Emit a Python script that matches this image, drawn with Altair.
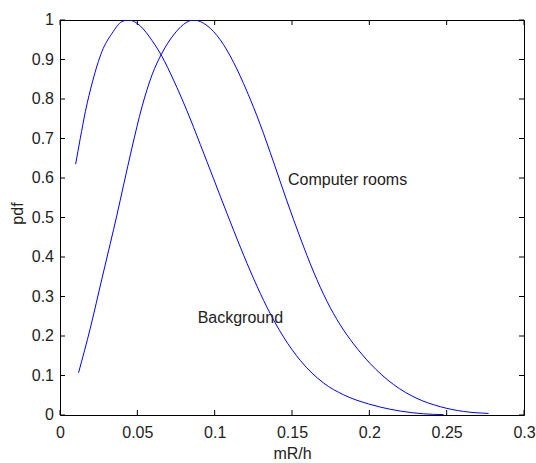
import altair as alt
import pandas as pd

# Background curve (mR/h, pdf)
bg_x = [0.0101, 0.0131, 0.0164, 0.0211, 0.0271, 0.0336, 0.0401, 0.0444, 0.0519, 0.0595,
        0.0659, 0.0734, 0.0821, 0.0907, 0.0993, 0.1080, 0.1166, 0.1252, 0.1338, 0.1446,
        0.1554, 0.1704, 0.1834, 0.1995, 0.2071, 0.2200, 0.2350, 0.2480]
bg_y = [0.635, 0.700, 0.768, 0.845, 0.920, 0.966, 0.996, 1.000, 0.985, 0.948,
        0.908, 0.848, 0.770, 0.685, 0.598, 0.510, 0.425, 0.345, 0.273, 0.197,
        0.138, 0.081, 0.051, 0.028, 0.020, 0.010, 0.003, 0.001]

# Computer rooms curve
cr_x = [0.0120, 0.0196, 0.0271, 0.0325, 0.0368, 0.0411, 0.0465, 0.0530, 0.0595, 0.0659,
        0.0734, 0.0799, 0.0864, 0.0950, 0.1036, 0.1122, 0.1208, 0.1295, 0.1381, 0.1467,
        0.1554, 0.1640, 0.1726, 0.1812, 0.1898, 0.2006, 0.2157, 0.2308, 0.2459, 0.2609,
        0.2771]
cr_y = [0.107, 0.220, 0.345, 0.434, 0.506, 0.582, 0.676, 0.780, 0.861, 0.916,
        0.962, 0.989, 1.000, 0.986, 0.950, 0.893, 0.820, 0.735, 0.640, 0.542,
        0.448, 0.362, 0.288, 0.228, 0.180, 0.130, 0.077, 0.042, 0.021, 0.009,
        0.004]

x_ticks = [0, 0.05, 0.1, 0.15, 0.2, 0.25, 0.3]
y_ticks = [0, 0.1, 0.2, 0.3, 0.4, 0.5, 0.6, 0.7, 0.8, 0.9, 1]
y_tick_labels = ["0", "0.1", "0.2", "0.3", "0.4", "0.5", "0.6", "0.7", "0.8", "0.9", "1"]

labels = ["Computer rooms", "Background"]
label_x = [0.1474, 0.0890]
label_y = [0.582, 0.233]

W, H = 464, 395
FONT = "Liberation Sans"
BLUE = "#0000ff"
TXT = "#222"

xs = alt.Scale(domain=[0, 0.3], nice=False, zero=False)
ys = alt.Scale(domain=[0, 1], nice=False, zero=False)

curves = pd.DataFrame(
    {"x": bg_x + cr_x, "y": bg_y + cr_y,
     "series": ["Background"] * len(bg_x) + ["Computer rooms"] * len(cr_x)}
)

lines = alt.Chart(curves).mark_line(
    color=BLUE, strokeWidth=1, clip=True, interpolate="monotone"
).encode(
    x=alt.X("x:Q", scale=xs, axis=alt.Axis(
        values=x_ticks, format=".2~f", ticks=False, domain=False,
        grid=False, labelPadding=9, labelFontSize=16, labelFont=FONT, labelColor=TXT,
        labelOverlap=False, labelFlush=False,
        title="mR/h", titleFontSize=16, titleFont=FONT, titleFontWeight="normal",
        titleColor=TXT, titleY=30, titleBaseline="top")),
    y=alt.Y("y:Q", scale=ys, axis=alt.Axis(
        values=y_ticks, labels=False, ticks=False, domain=False, grid=False,
        title="pdf", titleFontSize=16, titleFont=FONT, titleFontWeight="normal",
        titleColor=TXT, titleX=-35, titleY=193, titleBaseline="bottom", titleAngle=270)),
    detail="series:N",
)

xt = pd.DataFrame({"x": x_ticks})
yt = pd.DataFrame({"y": y_ticks, "lab": y_tick_labels})

tick_b = alt.Chart(xt).mark_rule(color="black", strokeWidth=1).encode(
    x=alt.X("x:Q", scale=xs), y=alt.value(H), y2=alt.value(H - 5))
tick_t = alt.Chart(xt).mark_rule(color="black", strokeWidth=1).encode(
    x=alt.X("x:Q", scale=xs), y=alt.value(0), y2=alt.value(5))
tick_l = alt.Chart(yt).mark_rule(color="black", strokeWidth=1).encode(
    y=alt.Y("y:Q", scale=ys), x=alt.value(0), x2=alt.value(5))
tick_r = alt.Chart(yt).mark_rule(color="black", strokeWidth=1).encode(
    y=alt.Y("y:Q", scale=ys), x=alt.value(W), x2=alt.value(W - 5))

ylab = alt.Chart(yt).mark_text(
    align="right", baseline="middle", font=FONT, fontSize=16, color=TXT
).encode(
    y=alt.Y("y:Q", scale=ys), x=alt.value(-6), text="lab:N"
)

txt = pd.DataFrame({"label": labels, "x": label_x, "y": label_y})
texts = alt.Chart(txt).mark_text(
    align="left", baseline="alphabetic", font=FONT, fontSize=16, color=TXT
).encode(
    x=alt.X("x:Q", scale=xs),
    y=alt.Y("y:Q", scale=ys),
    text="label:N",
)

chart = alt.layer(lines, tick_b, tick_t, tick_l, tick_r, ylab, texts).properties(
    width=W, height=H,
    autosize=alt.AutoSizeParams(type="none"),
    padding={"left": 60, "top": 20, "right": 12, "bottom": 48},
    background="white",
).configure_view(stroke="black", strokeWidth=1).configure_axis(
    labelOverlap=False, labelFlush=False
)

chart.save("out.html", embed_options={"renderer": "svg", "actions": False})
